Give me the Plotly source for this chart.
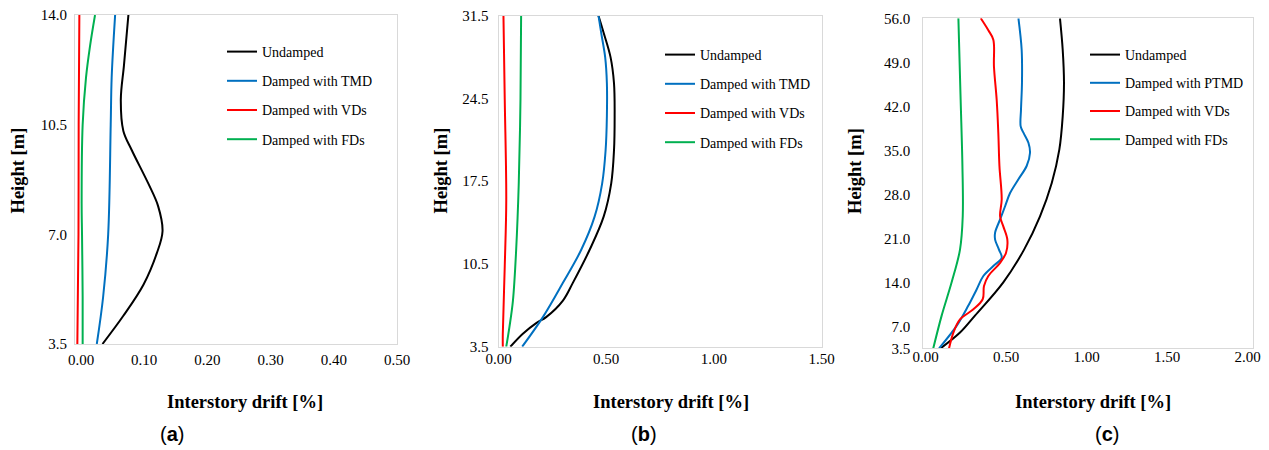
import plotly.graph_objects as go

W, H = 1269, 450

# ---------------- Panel (a) ----------------
a_und_h = [3.5, 4.4, 5.4, 6.4, 7.1, 7.9, 8.6, 9.7, 10.3, 11.3, 12.4, 14.0]
a_und_x = [0.034, 0.067, 0.099, 0.120, 0.129, 0.122, 0.107, 0.080, 0.067, 0.063, 0.068, 0.075]
a_tmd_h = [3.5, 5.0, 7.0, 10.5, 12.0, 14.0]
a_tmd_x = [0.025, 0.035, 0.043, 0.047, 0.0485, 0.054]
a_vd_h = [3.5, 7.0, 10.5, 14.0]
a_vd_x = [-0.0058, -0.0040, -0.0037, -0.0026]
a_fd_h = [3.5, 5.0, 7.0, 8.0, 10.5, 12.0, 13.0, 14.0]
a_fd_x = [0.0026, 0.0026, 0.0016, 0.0010, 0.0026, 0.0079, 0.0142, 0.0222]
a_xticks = [0.0, 0.1, 0.2, 0.3, 0.4, 0.5]
a_yticks = [3.5, 7.0, 10.5, 14.0]

# ---------------- Panel (b) ----------------
b_und_h = [3.5, 4.6, 5.5, 6.0, 7.4, 8.9, 11.7, 14.5, 17.3, 20.1, 23.0, 25.8, 28.0, 30.0, 31.5]
b_und_x = [0.055, 0.113, 0.175, 0.221, 0.299, 0.345, 0.423, 0.488, 0.523, 0.536, 0.539, 0.536, 0.520, 0.489, 0.464]
b_tmd_h = [3.5, 6.0, 8.9, 11.7, 14.5, 17.3, 20.1, 23.0, 25.8, 28.0, 30.0, 31.5]
b_tmd_x = [0.110, 0.206, 0.299, 0.384, 0.446, 0.481, 0.497, 0.503, 0.503, 0.495, 0.477, 0.464]
b_vd_h = [3.5, 4.6, 10.3, 15.9, 24.4, 31.5]
b_vd_x = [0.020, 0.020, 0.029, 0.036, 0.029, 0.023]
b_fd_h = [3.5, 5.2, 7.4, 11.7, 17.3, 24.4, 31.5]
b_fd_x = [0.036, 0.051, 0.067, 0.082, 0.094, 0.102, 0.105]
b_xticks = [0.0, 0.5, 1.0, 1.5]
b_yticks = [3.5, 10.5, 17.5, 24.5, 31.5]

# ---------------- Panel (c) ----------------
c_und_h = [3.5, 6.0, 8.7, 14.0, 19.2, 24.5, 29.8, 35.1, 40.4, 45.7, 51.0, 56.0]
c_und_x = [0.093, 0.213, 0.306, 0.482, 0.611, 0.710, 0.783, 0.830, 0.851, 0.859, 0.851, 0.834]
c_ptmd_h = [3.5, 7.1, 10.3, 12.9, 15.0, 16.6, 17.9, 19.2, 20.8, 21.9, 24.0, 26.1, 28.2, 30.4,
            32.5, 34.6, 36.2, 37.8, 38.8, 41.5, 45.7, 51.0, 56.0]
c_ptmd_x = [0.083, 0.193, 0.265, 0.317, 0.358, 0.420, 0.472, 0.455, 0.431, 0.431, 0.462, 0.493,
            0.524, 0.576, 0.627, 0.648, 0.638, 0.607, 0.590, 0.592, 0.598, 0.596, 0.576]
c_vd_h = [3.5, 6.0, 8.1, 9.7, 11.3, 13.4, 15.0, 17.1, 18.7, 20.8, 22.9, 24.5, 27.2, 32.5,
          37.8, 43.0, 48.3, 52.6, 54.1, 56.0]
c_vd_x = [0.145, 0.172, 0.213, 0.296, 0.354, 0.362, 0.389, 0.462, 0.499, 0.507, 0.482, 0.462,
          0.472, 0.458, 0.451, 0.441, 0.424, 0.420, 0.389, 0.342]
c_fd_h = [3.5, 8.7, 14.0, 19.2, 24.5, 32.5, 43.0, 56.0]
c_fd_x = [0.047, 0.099, 0.161, 0.213, 0.230, 0.228, 0.217, 0.203]
c_xticks = [0.0, 0.5, 1.0, 1.5, 2.0]
c_yticks = [3.5, 7.0, 14.0, 21.0, 28.0, 35.0, 42.0, 49.0, 56.0]

names_a = ["Undamped", "Damped with TMD", "Damped with VDs", "Damped with FDs"]
names_b = ["Undamped", "Damped with TMD", "Damped with VDs", "Damped with FDs"]
names_c = ["Undamped", "Damped with PTMD", "Damped with VDs", "Damped with FDs"]
colors = ["#000000", "#0070C0", "#FF0000", "#00B050"]

SERIF = "Liberation Serif, DejaVu Serif, serif"

fig = go.Figure()

panels = [
    ("x", "y", "legend", names_a,
     [(a_und_x, a_und_h), (a_tmd_x, a_tmd_h), (a_vd_x, a_vd_h), (a_fd_x, a_fd_h)]),
    ("x2", "y2", "legend2", names_b,
     [(b_und_x, b_und_h), (b_tmd_x, b_tmd_h), (b_vd_x, b_vd_h), (b_fd_x, b_fd_h)]),
    ("x3", "y3", "legend3", names_c,
     [(c_und_x, c_und_h), (c_ptmd_x, c_ptmd_h), (c_vd_x, c_vd_h), (c_fd_x, c_fd_h)]),
]

for pi, (xa, ya, lg, names, series) in enumerate(panels):
    for si, ((xs, hs), nm, col) in enumerate(zip(series, names, colors)):
        fig.add_trace(go.Scatter(
            x=xs, y=hs, mode="lines", name=nm,
            line=dict(color=col, width=2, shape="spline", smoothing=1.0),
            xaxis=xa, yaxis=ya, legend=lg, legendgroup=f"{lg}_{si}",
            showlegend=True, hoverinfo="skip",
        ))

def px_x(p):
    return p / W

def px_y(p):
    return 1 - p / H

tickfont = dict(family=SERIF, size=15, color="#000000")
axis_common = dict(showgrid=False, zeroline=False, showline=True, mirror=True,
                   linecolor="#D9D9D9", linewidth=1, ticks="", tickfont=tickfont,
                   automargin=False)

layout = dict(
    width=W, height=H, autosize=False,
    margin=dict(l=0, r=0, t=0, b=0, pad=0, autoexpand=False),
    paper_bgcolor="white", plot_bgcolor="white",
    font=dict(family=SERIF, color="#000000"),
    xaxis=dict(domain=[px_x(75), px_x(397)], range=[-0.0095, 0.5], anchor="y",
               tickvals=a_xticks, tickformat=".2f", ticklabelstandoff=2, **axis_common),
    yaxis=dict(domain=[px_y(344), px_y(15)], range=[3.5, 14.0], anchor="x",
               tickvals=a_yticks, tickformat=".1f", ticklabelstandoff=4, **axis_common),
    xaxis2=dict(domain=[px_x(498.5), px_x(821.7)], range=[0.0, 1.5], anchor="y2",
                tickvals=b_xticks, tickformat=".2f", ticklabelstandoff=-2, **axis_common),
    yaxis2=dict(domain=[px_y(346.7), px_y(15.7)], range=[3.5, 31.5], anchor="x2",
                tickvals=b_yticks, tickformat=".1f", ticklabelstandoff=6, **axis_common),
    xaxis3=dict(domain=[px_x(923.3), px_x(1253.3)], range=[-0.015, 2.035], anchor="y3",
                tickvals=c_xticks, tickformat=".2f", ticklabelstandoff=-5, **axis_common),
    yaxis3=dict(domain=[px_y(348.3), px_y(18.3)], range=[3.5, 56.0], anchor="x3",
                tickvals=c_yticks, tickformat=".1f", ticklabelstandoff=9, **axis_common),
)

legfont = dict(family=SERIF, size=14, color="#000000")
def leg(xp, yp, gap=8):
    return dict(x=px_x(xp), y=px_y(yp), xanchor="left", yanchor="top",
                bgcolor="rgba(0,0,0,0)", borderwidth=0, font=legfont,
                traceorder="grouped", tracegroupgap=gap, itemwidth=30)

layout["legend"] = leg(222, 36)
layout["legend2"] = leg(660, 39)
layout["legend3"] = leg(1085, 39, gap=7)

title_font = dict(family=SERIF, size=18.5, color="#000000")
annotations = []
for cx in [245, 671, 1093]:
    annotations.append(dict(text="<b>Interstory drift [%]</b>", x=px_x(cx), y=px_y(402),
                            xref="paper", yref="paper", showarrow=False,
                            xanchor="center", yanchor="middle", font=title_font))
for cx in [17.5, 440.5, 855]:
    annotations.append(dict(text="<b>Height [m]</b>", x=px_x(cx), y=px_y(171),
                            xref="paper", yref="paper", showarrow=False, textangle=-90,
                            xanchor="center", yanchor="middle", font=title_font))
for lab, cx in [("a", 172), ("b", 644), ("c", 1107)]:
    annotations.append(dict(text=f"(<b>{lab}</b>)", x=px_x(cx), y=px_y(434),
                            xref="paper", yref="paper", showarrow=False,
                            xanchor="center", yanchor="middle",
                            font=dict(family="Liberation Sans, Arial, sans-serif", size=20, color="#000000")))
layout["annotations"] = annotations

fig.update_layout(**layout)
# remove the browser's default 8px body margin so the figure fills the window exactly
fig.write_html("out.html",
               config={"displayModeBar": False, "staticPlot": True},
               post_script="document.body.style.margin='0';document.body.style.overflow='hidden';")
